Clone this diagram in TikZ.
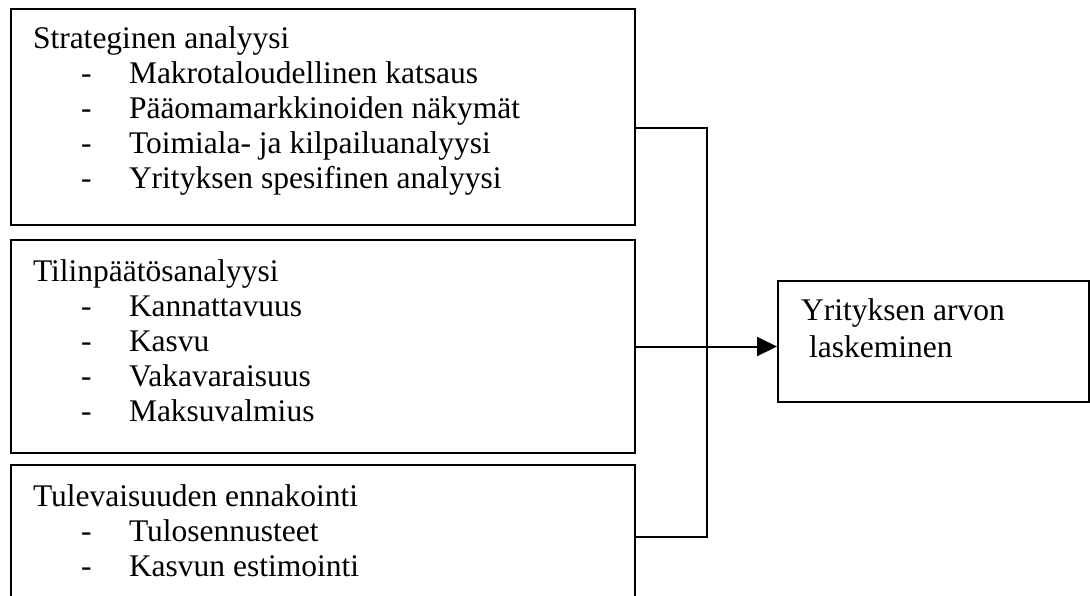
\documentclass[tikz,border=0pt]{standalone}
\usepackage{fontspec}
\setmainfont{Liberation Serif}
\usetikzlibrary{arrows.meta,positioning}

\begin{document}
\begin{tikzpicture}[x=0.4pt,y=-0.4pt,line width=0.8pt,
    box/.style={draw,rectangle,anchor=north west,inner sep=0pt},
    txt/.style={anchor=base west,inner sep=0pt,font=\fontsize{12.6}{14}\selectfont}]
  \clip (0,0) rectangle (1090,595);
  %the boxes
  \node[box,minimum width=249.6pt,minimum height=86.4pt] (SA) at (10,8) {};
  \node[box,minimum width=249.6pt,minimum height=85.2pt] (TP) at (10,239) {};
  \node[box,minimum width=249.6pt,minimum height=64pt] (TE) at (10,464) {};
  \node[box,minimum width=124.4pt,minimum height=48.4pt] (YA) at (777,280) {};

  %strateginen analyysi
  \node[txt] (sa) at (32,48) {Strateginen analyysi};
  \node[txt] (sad1) at (80,83) {-};
  \node[txt] (sa1) at (128,83) {Makrotaloudellinen katsaus};
  \node[txt] (sad2) at (80,118) {-};
  \node[txt] (sa2) at (128,118) {Pääomamarkkinoiden näkymät};
  \node[txt] (sad3) at (80,153) {-};
  \node[txt] (sa3) at (128,153) {Toimiala- ja kilpailuanalyysi};
  \node[txt] (sad4) at (80,188) {-};
  \node[txt] (sa4) at (128,188) {Yrityksen spesifinen analyysi};

  %tilinpaatosanalyysi
  \node[txt] (tp) at (32,281) {Tilinpäätösanalyysi};
  \node[txt] (tpd1) at (80,316) {-};
  \node[txt] (tp1) at (128,316) {Kannattavuus};
  \node[txt] (tpd2) at (80,351) {-};
  \node[txt] (tp2) at (128,351) {Kasvu};
  \node[txt] (tpd3) at (80,386) {-};
  \node[txt] (tp3) at (128,386) {Vakavaraisuus};
  \node[txt] (tpd4) at (80,421) {-};
  \node[txt] (tp4) at (128,421) {Maksuvalmius};

  %tulevaisuuden ennakointi
  \node[txt] (te) at (32,506) {Tulevaisuuden ennakointi};
  \node[txt] (ted1) at (80,541) {-};
  \node[txt] (te1) at (128,541) {Tulosennusteet};
  \node[txt] (ted2) at (80,576) {-};
  \node[txt] (te2) at (128,576) {Kasvun estimointi};

  %the value box
  \node[txt] (ya1) at (800,320) {Yrityksen arvon};
  \node[txt] (ya2) at (808,357) {laskeminen};

  %the connectors
  \coordinate (J1) at (707,128);
  \coordinate (J3) at (707,537);
  \draw (SA.east |- J1) -- (J1) -- (J3) -- (TE.east |- J3);
  \draw[-{Triangle[length=8pt,width=7.6pt]}] (TP.east) -- (TP.east -| YA.west);
\end{tikzpicture}
\end{document}
